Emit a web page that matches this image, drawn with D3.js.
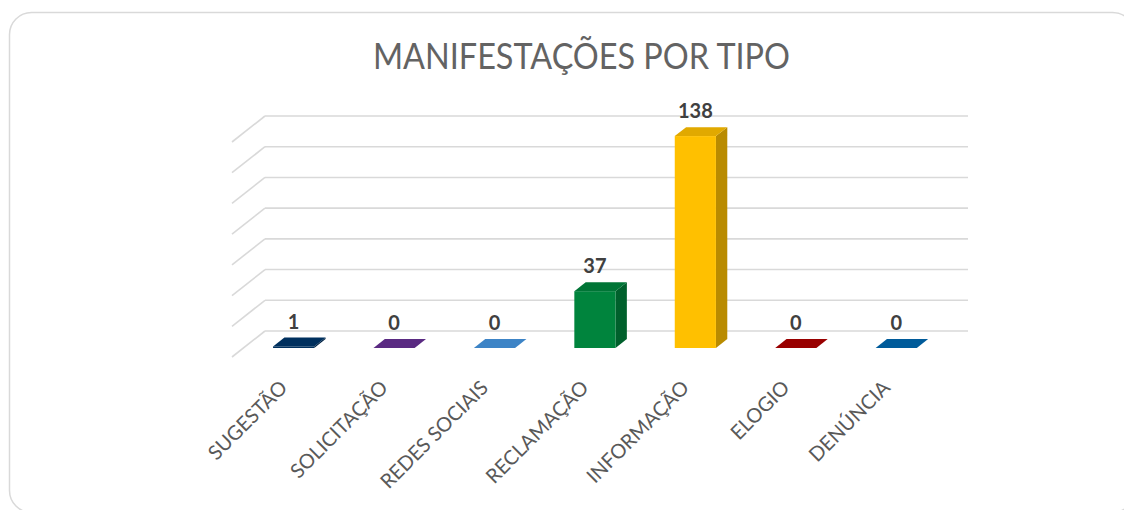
<!DOCTYPE html>
<html>
<head>
<meta charset="utf-8">
<script src="https://cdn.jsdelivr.net/npm/d3@7"></script>
<style>
  body { margin: 0; background: #fff; }
  svg { display: block; }
</style>
</head>
<body>
<div id="chart"></div>
<script>
// data
const categories = ["SUGESTÃO", "SOLICITAÇÃO", "REDES SOCIAIS", "RECLAMAÇÃO", "INFORMAÇÃO", "ELOGIO", "DENÚNCIA"];
const values = [1, 0, 0, 37, 138, 0, 0];
const barColors = ["#00305e", "#5a2a82", "#3d84c6", "#00843d", "#ffc000", "#990000", "#005b9a"];
const gridTicks = [0, 20, 40, 60, 80, 100, 120, 140];
const chartTitle = "MANIFESTAÇÕES POR TIPO";

const width = 1124;
const height = 510;

// 3d geometry (back wall / floor)
const backLeft = 265, backRight = 968;
const floorBack = 331;          // y of value 0 on back wall
const depthX = -33, depthY = 26; // back -> front of floor
const fFront = 0.654, fBack = 0.31; // bar depth fractions

const svg = d3.select("#chart").append("svg")
  .attr("width", width)
  .attr("height", height);

// card
svg.append("rect")
  .attr("x", 9.5).attr("y", 12.5)
  .attr("width", 1125).attr("height", 500)
  .attr("rx", 22).attr("ry", 22)
  .style("fill", "#fff")
  .style("stroke", "#d9d9d9")
  .style("stroke-width", 1.5);

// title
svg.append("text")
  .attr("x", 581.5).attr("y", 69)
  .attr("text-anchor", "middle")
  .attr("textLength", 417)
  .attr("lengthAdjust", "spacingAndGlyphs")
  .style("font-family", "Lato, 'Open Sans', sans-serif")
  .style("font-size", "36px")
  .style("fill", "#636363")
  .text(chartTitle);

var y = d3.scaleLinear().domain([0, 140]).range([0, 215]);

// x at the front of the bars
var frontShift = depthX * fFront;
var x = d3.scaleBand()
  .domain(categories)
  .range([backLeft + frontShift, backRight + frontShift])
  .paddingInner(0.59)
  .paddingOuter(0.295);

// gridlines on the back wall + side wall
var grid = svg.append("g").attr("class", "grid");
grid.selectAll(".h")
  .data(gridTicks)
  .enter().append("line")
  .attr("x1", backLeft).attr("x2", backRight)
  .attr("y1", function(d) { return floorBack - y(d); })
  .attr("y2", function(d) { return floorBack - y(d); });
grid.selectAll(".d")
  .data(gridTicks)
  .enter().append("line")
  .attr("x1", backLeft).attr("x2", backLeft + depthX)
  .attr("y1", function(d) { return floorBack - y(d); })
  .attr("y2", function(d) { return floorBack - y(d) + depthY; });
grid.selectAll("line")
  .style("stroke", "#d9d9d9")
  .style("stroke-width", 1.6);

// bars
var dx = depthX * (fBack - fFront); // offset front -> back
var dy = depthY * (fBack - fFront);
var frontBottom = floorBack + depthY * fFront;

var data = categories.map(function(c, i) { return { cat: c, value: values[i], color: barColors[i] }; });

var bars = svg.selectAll(".bar")
  .data(data)
  .enter().append("g")
  .attr("class", "bar");

bars.each(function(d) {
  var g = d3.select(this);
  var x0 = x(d.cat), x1 = x0 + x.bandwidth();
  var yb = frontBottom, yt = frontBottom - y(d.value);
  var base = d3.color(d.color);
  // side
  g.append("path")
    .attr("d", "M" + x1 + "," + yb + "L" + (x1 + dx) + "," + (yb + dy) + "L" + (x1 + dx) + "," + (yt + dy) + "L" + x1 + "," + yt + "Z")
    .style("fill", base.darker(0.9));
  // front
  g.append("rect")
    .attr("x", x0).attr("y", yt)
    .attr("width", x.bandwidth())
    .attr("height", y(d.value))
    .style("fill", base);
  // top
  g.append("path")
    .attr("d", "M" + x0 + "," + yt + "L" + x1 + "," + yt + "L" + (x1 + dx) + "," + (yt + dy) + "L" + (x0 + dx) + "," + (yt + dy) + "Z")
    .style("fill", d.value > 1 ? base.darker(0.35) : base);
});

// value labels
svg.selectAll(".val")
  .data(data)
  .enter().append("text")
  .attr("class", "val")
  .attr("x", function(d) { return x(d.cat) + x.bandwidth() / 2; })
  .attr("y", function(d) { return frontBottom - y(d.value) + dy - 9; })
  .attr("text-anchor", "middle")
  .style("font-family", "Lato, sans-serif")
  .style("font-weight", "bold")
  .style("font-size", "20px")
  .style("fill", "#404040")
  .text(function(d) { return d.value; });

// category labels
svg.selectAll(".cat")
  .data(categories)
  .enter().append("text")
  .attr("class", "cat")
  .attr("transform", function(d) {
    return "translate(" + (x(d) + x.bandwidth() / 2 - 5) + ",389) rotate(-45)";
  })
  .attr("text-anchor", "end")
  .style("font-family", "Lato, sans-serif")
  .style("font-size", "20px")
  .style("fill", "#595959")
  .text(function(d) { return d; });
</script>
</body>
</html>
